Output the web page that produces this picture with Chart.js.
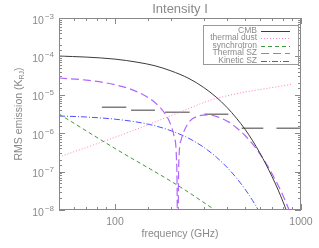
<!DOCTYPE html>
<html><head><meta charset="utf-8">
<script src="https://cdn.jsdelivr.net/npm/chart.js@4/dist/chart.umd.min.js"></script>
<style>html,body{margin:0;padding:0;background:#fff;overflow:hidden}</style>
</head><body>
<canvas id="c" width="319" height="248"></canvas>
<script>
// ---- data (frequency in GHz, RMS emission in K_RJ) ----
const cmbFreq  = [50, 70, 100, 133, 164, 200, 250, 300, 350, 400, 450, 500, 550, 600, 650, 700, 750, 800, 850, 900];
const cmbVal   = [1.02e-4, 9.6e-5, 8.5e-5, 7.0e-5, 5.7e-5, 4.2e-5, 2.65e-5, 1.55e-5, 8.7e-6, 4.7e-6, 2.45e-6, 1.27e-6, 6.3e-7, 3.1e-7, 1.5e-7, 7.3e-8, 3.5e-8, 1.65e-8, 7.7e-9, 3.6e-9];

const dustFreq = [50, 109, 224, 328, 500, 692, 905];
const dustVal  = [2.4e-7, 9.1e-7, 3.56e-6, 7.3e-6, 1.18e-5, 1.53e-5, 1.91e-5];

const syncFreq = [50, 100, 224, 345, 400];
const syncVal  = [3.16e-6, 4.0e-7, 4.0e-8, 1.0e-8, 6.3e-9];

const tszFreq  = [50, 70, 100, 133, 164, 186, 198, 208, 214, 216, 217.5, 219, 221, 226, 247, 279, 316, 353, 405, 450, 500, 550, 600, 650, 700, 750, 800, 850, 900];
const tszVal   = [2.74e-5, 2.41e-5, 1.83e-5, 1.17e-5, 6.3e-6, 3.2e-6, 1.8e-6, 8.2e-7, 2.2e-7, 1.5e-8, 1e-12, 1.5e-8, 2.5e-7, 6.3e-7, 1.8e-6, 2.77e-6, 3.0e-6, 2.7e-6, 2.0e-6, 1.39e-6, 8.7e-7, 5.2e-7, 2.95e-7, 1.63e-7, 8.7e-8, 4.6e-8, 2.4e-8, 1.2e-8, 6.1e-9];

const kszFreq  = [50, 70, 100, 133, 164, 200, 250, 300, 350, 400, 450, 500, 550, 600, 650];
const kszVal   = [2.8e-6, 2.64e-6, 2.32e-6, 1.93e-6, 1.56e-6, 1.16e-6, 7.3e-7, 4.3e-7, 2.4e-7, 1.3e-7, 6.8e-8, 3.5e-8, 1.75e-8, 8.6e-9, 4.2e-9];

// instrument band noise levels (band edges in GHz)
const bandLow   = [85, 122, 186, 302, 480, 738];
const bandHigh  = [115, 164, 252, 407, 627, 986];
const bandNoise = [4.72e-6, 3.95e-6, 3.5e-6, 3.1e-6, 1.34e-6, 1.34e-6];

const seriesLabels = ['CMB', 'thermal dust', 'synchrotron', 'Thermal SZ', 'Kinetic SZ'];
const titleText = 'Intensity I';
const xTitle = 'frequency (GHz)';
const xRange = [50, 1000];
const yRange = [1e-8, 1e-3];
const xLabelTicks = [100, 1000];
const yLabelExps = [-8, -7, -6, -5, -4, -3];

// ---- build chart ----
function pts(fr, v){ return fr.map((f,i)=>({x:f, y:v[i]})); }
function mk(label, fr, v, color, dash, w){
  return {label, data: pts(fr, v), borderColor: color, borderDash: dash, borderWidth: w,
    pointRadius: 0, fill: false, cubicInterpolationMode: 'monotone', inLegend: true};
}
const noiseData = [];
bandLow.forEach((lo,i)=>{
  noiseData.push({x:lo, y:bandNoise[i]}, {x:bandHigh[i], y:bandNoise[i]}, {x:bandHigh[i], y:null});
});

const datasets = [
  mk(seriesLabels[0], cmbFreq, cmbVal, '#3c3c3c', [], 1),
  mk(seriesLabels[1], dustFreq, dustVal, '#ff80c4', [1,2], 1),
  mk(seriesLabels[2], syncFreq, syncVal, '#3f9a3f', [4,3], 1),
  mk(seriesLabels[3], tszFreq, tszVal, '#b266ff', [8,4], 1.2),
  mk(seriesLabels[4], kszFreq, kszVal, '#5050ff', [6,2,1,2], 1),
  {label:'bands', data: noiseData, borderColor:'#7e7e7e', borderWidth:1.5, pointRadius:0,
   tension:0, spanGaps:false, fill:false, inLegend:false}
];

const FONT = '"Liberation Sans", Arial, sans-serif';
const GRAY = '#8a8a8a';

const decor = {
  id: 'decor',
  beforeDraw(chart){
    const c = chart.ctx; c.save(); c.fillStyle = '#fff'; c.fillRect(0,0,chart.width,chart.height); c.restore();
  },
  afterDraw(chart){
    const c = chart.ctx, a = chart.chartArea, xs = chart.scales.x, ys = chart.scales.y;
    c.save();
    // frame
    c.strokeStyle = '#888'; c.lineWidth = 1; c.setLineDash([]);
    c.strokeRect(Math.round(a.left)+0.5, Math.round(a.top)+0.5, Math.round(a.right-a.left)-1, Math.round(a.bottom-a.top)-1);
    // inward ticks
    const isMajor = v => Math.abs(Math.log10(v) - Math.round(Math.log10(v))) < 1e-6;
    c.beginPath();
    xs.ticks.forEach(t=>{
      const px = Math.round(xs.getPixelForValue(t.value)) + 0.5, L = isMajor(t.value) ? 6 : 3;
      c.moveTo(px, a.bottom); c.lineTo(px, a.bottom - L);
      c.moveTo(px, a.top); c.lineTo(px, a.top + L);
    });
    ys.ticks.forEach(t=>{
      const py = Math.round(ys.getPixelForValue(t.value)) + 0.5, L = isMajor(t.value) ? 6 : 3;
      c.moveTo(a.left, py); c.lineTo(a.left + L, py);
      c.moveTo(a.right, py); c.lineTo(a.right - L, py);
    });
    c.stroke();
    // y tick labels with superscript exponents
    c.fillStyle = GRAY; c.textBaseline = 'alphabetic';
    yLabelExps.forEach(e=>{
      const py = ys.getPixelForValue(Math.pow(10, e));
      const sup = '\u2212' + Math.abs(e);
      c.font = '8px ' + FONT; const ws = c.measureText(sup).width;
      const xr = a.left - 5;
      c.textAlign = 'right';
      c.fillText(sup, xr, py + 0.5);
      c.font = '10.5px ' + FONT;
      c.fillText('10', xr - ws - 1, py + 5.5);
    });
    // x tick labels
    c.font = '10.5px ' + FONT; c.textAlign = 'center'; c.textBaseline = 'middle';
    xLabelTicks.forEach(v=>{ c.fillText(String(v), xs.getPixelForValue(v), 222); });
    // x title
    c.fillText(xTitle, (a.left + a.right)/2, 234);
    // main title
    c.font = '13px ' + FONT;
    c.fillText(titleText, (a.left + a.right)/2, 9);
    // y title with subscript
    c.save();
    c.translate(19, (a.top + a.bottom)/2);
    c.rotate(-Math.PI/2);
    const main = 'RMS emission (K', sub = 'RJ';
    c.font = '7px ' + FONT; const wsub = c.measureText(sub).width;
    c.font = '10.5px ' + FONT; const wm = c.measureText(main).width, wp = c.measureText(')').width;
    const x0 = -(wm + wsub + wp)/2;
    c.textAlign = 'left'; c.textBaseline = 'middle';
    c.fillText(main, x0, 0);
    c.font = '7px ' + FONT; c.fillText(sub, x0 + wm, 3);
    c.font = '10.5px ' + FONT; c.fillText(')', x0 + wm + wsub, 0);
    c.restore();
    // legend
    c.strokeStyle = '#999'; c.lineWidth = 1; c.setLineDash([]);
    c.strokeRect(203.5, 25.5, 95, 39);
    c.font = '8.5px ' + FONT; c.textAlign = 'right'; c.textBaseline = 'middle';
    let row = 0;
    chart.data.datasets.forEach(d=>{
      if (!d.inLegend) return;
      const y = 30.5 + row * 7.5;
      c.fillStyle = GRAY; c.fillText(d.label, 257, y);
      c.strokeStyle = d.borderColor; c.lineWidth = d.borderWidth; c.setLineDash(d.borderDash || []);
      c.beginPath(); c.moveTo(261, Math.round(y)+0.5); c.lineTo(290, Math.round(y)+0.5); c.stroke();
      row++;
    });
    c.restore();
  }
};

new Chart(document.getElementById('c'), {
  type: 'line',
  data: { datasets },
  options: {
    responsive: false, animation: false, devicePixelRatio: 1,
    layout: { padding: { top: 18, right: 18, left: 0, bottom: 0 } },
    plugins: { legend: { display: false }, tooltip: { enabled: false }, title: { display: false } },
    scales: {
      x: { type: 'logarithmic', min: xRange[0], max: xRange[1],
           grid: { display: false, drawTicks: false }, border: { display: false },
           ticks: { display: false, autoSkip: false },
           afterFit(s){ s.height = 38; } },
      y: { type: 'logarithmic', min: yRange[0], max: yRange[1],
           grid: { display: false, drawTicks: false }, border: { display: false },
           ticks: { display: false, autoSkip: false },
           afterFit(s){ s.width = 59; } }
    }
  },
  plugins: [decor]
});
</script>
</body></html>
